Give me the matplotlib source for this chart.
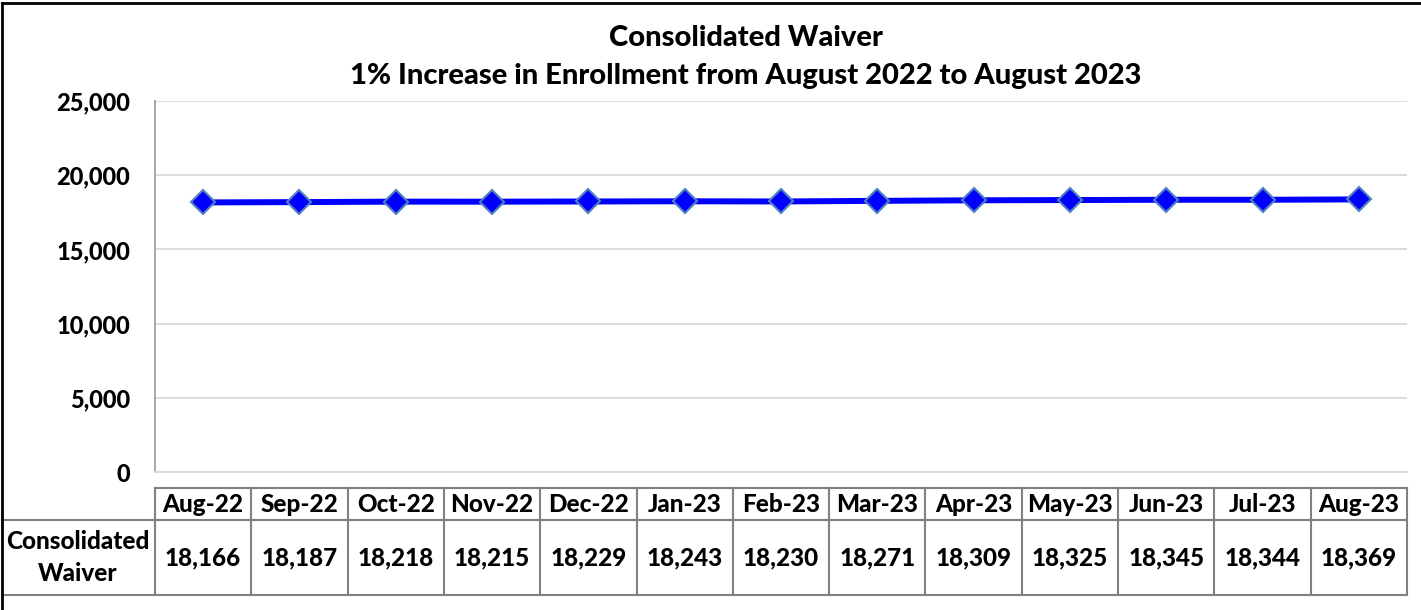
import matplotlib
matplotlib.use("Agg")
import matplotlib.pyplot as plt
from matplotlib.lines import Line2D
from matplotlib.ticker import FuncFormatter, MultipleLocator

months = ["Aug-22", "Sep-22", "Oct-22", "Nov-22", "Dec-22", "Jan-23", "Feb-23",
          "Mar-23", "Apr-23", "May-23", "Jun-23", "Jul-23", "Aug-23"]
enrollment = [18166, 18187, 18218, 18215, 18229, 18243, 18230,
              18271, 18309, 18325, 18345, 18344, 18369]
series_name = "Consolidated\nWaiver"
title = "Consolidated Waiver\n1% Increase in Enrollment from August 2022 to August 2023"

plt.rcParams['font.family'] = ['Lato', 'DejaVu Sans']
FW = 900
W, H = 1421, 610
fig = plt.figure(figsize=(W / 100, H / 100), dpi=100)

x0, x1, ytop, ybot = 155, 1407, 101, 472
ax = fig.add_axes([x0 / W, 1 - ybot / H, (x1 - x0) / W, (ybot - ytop) / H])
xs = list(range(len(months)))
ax.plot(xs, enrollment, color="#0000FF", lw=4.3, zorder=3,
        marker="D", markersize=12.5, markerfacecolor="#0000FF",
        markeredgecolor="#4F81BD", markeredgewidth=1.5, clip_on=False)
ax.set_xlim(-0.5, len(months) - 0.5)
ax.set_ylim(0, 25000)
ax.yaxis.set_major_locator(MultipleLocator(5000))
ax.yaxis.set_major_formatter(FuncFormatter(lambda v, p: f"{int(v):,}"))
ax.grid(axis="y", color="#D9D9D9", lw=1.3)
ax.set_axisbelow(True)
for s in ["top", "right"]:
    ax.spines[s].set_visible(False)
ax.spines["left"].set_color("#A0A0A0")
ax.spines["bottom"].set_color("#D9D9D9")
ax.spines["left"].set_linewidth(1.3)
ax.spines["bottom"].set_linewidth(1.3)
ax.tick_params(axis="y", length=0, pad=18, labelsize=17)
for t in ax.get_yticklabels():
    t.set_fontweight(FW)
ax.set_xticks([])

fig.text(746 / W, 1 - 57 / H, title, ha="center", va="center",
         fontsize=21, fontweight=FW, linespacing=1.55)

# table
col_w = (x1 - x0) / len(months)
hy0, hy1, dy1 = 488, 520, 595
lc = "#808080"
def fl(xa, ya, xb, yb, c=lc, lw=1.5):
    fig.add_artist(Line2D([xa / W, xb / W], [1 - ya / H, 1 - yb / H], color=c, lw=lw))
fl(x0, hy0, x1, hy0)
fl(2, hy1, x1, hy1)
fl(2, dy1, x1, dy1)
for i in range(len(months) + 1):
    fl(x0 + i * col_w, hy0, x0 + i * col_w, dy1)
for i, (m, v) in enumerate(zip(months, enrollment)):
    cx = (x0 + (i + 0.5) * col_w) / W
    fig.text(cx, 1 - (hy0 + hy1) / 2 / H, m, ha="center", va="center",
             fontsize=17.5, fontweight=FW)
    fig.text(cx, 1 - (hy1 + dy1) / 2 / H, f"{v:,}", ha="center", va="center",
             fontsize=17.5, fontweight=FW)
fig.text(78 / W, 1 - (hy1 + dy1) / 2 / H, series_name, ha="center", va="center",
         fontsize=17.5, fontweight=FW, linespacing=1.45)

# outer border
fl(2, 3, W, 3, c="black", lw=2)
fl(2, 3, 2, H, c="black", lw=2)

fig.savefig("out.png", dpi=100)
